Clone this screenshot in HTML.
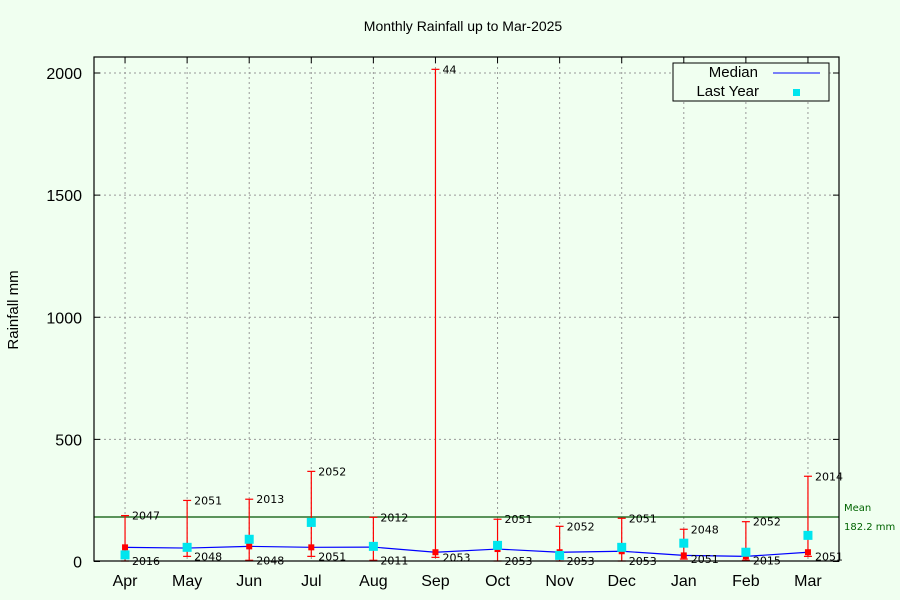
<!DOCTYPE html>
<html><head><meta charset="utf-8"><style>
body{margin:0;background:#f0fff0;}
svg{display:block;font-family:"Liberation Sans",sans-serif;}
.yr{font-family:"DejaVu Sans","Liberation Sans",sans-serif;}
</style></head><body>
<svg id="chart" width="900" height="600">
<rect x="0" y="0" width="900" height="600" fill="#f0fff0"/>
<text x="463" y="31" font-size="14" text-anchor="middle" fill="#000">Monthly Rainfall up to Mar-2025</text>
<text transform="translate(18,310) rotate(-90)" font-size="15" text-anchor="middle">Rainfall mm</text>
<g id="grid"></g>
<g id="marks"></g>
<rect x="94" y="57" width="745" height="504" fill="none" stroke="#000" stroke-width="1.2"/>
<g>
<rect x="673" y="63" width="156" height="38" fill="#f0fff0" stroke="#000"/>
<text x="758" y="77" font-size="15" text-anchor="end">Median</text>
<line x1="773" y1="73" x2="820" y2="73" stroke="#0000ff"/>
<text x="759" y="96" font-size="15" text-anchor="end">Last Year</text>
<rect x="793" y="89" width="7" height="7" fill="#00e5ee"/>
</g>
</svg>
<script>
const months=["Apr","May","Jun","Jul","Aug","Sep","Oct","Nov","Dec","Jan","Feb","Mar"];
const maxVals=[188,250,255,369,181,2015,173,144,177,132,163,349];
const maxYears=["2047","2051","2013","2052","2012","44","2051","2052","2051","2048","2052","2014"];
const minVals=[2,21,5,21,5,17,2,2,2,10,5,21];
const minYears=["2016","2048","2048","2051","2011","2053","2053","2053","2053","2051","2015","2051"];
const medianVals=[58,55,62,58,59,38,51,38,42,25,21,38];
const lastYearVals=[27,58,91,160,62,null,66,25,58,75,38,107];
const meanVal=182.2;
const yTicks=[0,500,1000,1500,2000];

const NS="http://www.w3.org/2000/svg";
const L=94,R=839,T=57,B=561.5;
const yMax=(B-T)/((561.5-73)/2000);
function xs(i){return L+(R-L)/months.length*(i+0.5);}
function ys(v){return B-(v/yMax)*(B-T);}
function mk(tag,attrs,parent,text){const e=document.createElementNS(NS,tag);for(const k in attrs)e.setAttribute(k,attrs[k]);if(text!==undefined)e.textContent=text;parent.appendChild(e);return e;}
const grid=document.getElementById('grid'),marks=document.getElementById('marks');

yTicks.forEach(t=>{
  const y=ys(t);
  if(t>0){const g=mk('line',{x1:L,x2:R,y1:y,y2:y,stroke:'#999','stroke-dasharray':'2,3'},grid);
  
  }
  const tk=mk('line',{x1:L,x2:L+6,y1:y,y2:y,stroke:'#000'},grid);
  
  
  const tk2=mk('line',{x1:R-6,x2:R,y1:y,y2:y,stroke:'#000'},grid);
  
  
  const lb=mk('text',{x:82,y:y+6,'font-size':16,'text-anchor':'end'},grid,String(t));
  
  
});
months.forEach((m,i)=>{
  const x=xs(i);
  const g=mk('line',{x1:x,x2:x,y1:T,y2:B,stroke:'#999','stroke-dasharray':'2,3'},grid);
  
  
  const tk=mk('line',{x1:x,x2:x,y1:T,y2:T+6,stroke:'#000'},grid);
  
  
  const lb=mk('text',{x:x,y:586,'font-size':16,'text-anchor':'middle'},grid,m);
  
  
});

const my=ys(meanVal);
const ml=mk('line',{x1:L,x2:R,y1:my,y2:my,stroke:'#005500','stroke-width':1.2},marks);


const mt=mk('text',{x:844,y:my-6,'font-size':10,fill:'#006400',class:'yr'},marks,'Mean');


const mv=mk('text',{x:844,y:my+13,'font-size':10,fill:'#006400',class:'yr'},marks,meanVal.toFixed(1)+' mm');



const pl=mk('polyline',{points:medianVals.map((v,i)=>xs(i)+','+ys(v)).join(' '),fill:'none',stroke:'#0000ff','stroke-width':1.2},marks);



months.forEach((m,i)=>{
  const x=xs(i),y1=ys(maxVals[i]),y2=ys(minVals[i]);
  const eb=mk('line',{x1:x,x2:x,y1:y1,y2:y2,stroke:'#ff0000','stroke-width':1.2},marks);
  
  
  [y1,y2].forEach(y=>{const c=mk('line',{x1:x-4,x2:x+4,y1:y,y2:y,stroke:'#ff0000','stroke-width':1.2},marks);
    
    });
  const t1=mk('text',{x:x+7,y:y1+4,'font-size':11,class:'yr'},marks,maxYears[i]);
  
  
  const t2=mk('text',{x:x+7,y:y2+4,'font-size':11,class:'yr'},marks,minYears[i]);
  
  
  const md=mk('rect',{x:x-3,y:ys(medianVals[i])-3,width:6,height:6,fill:'#ff0000'},marks);
  
  
  if(lastYearVals[i]!==null){
    const ly=mk('rect',{x:x-4.5,y:ys(lastYearVals[i])-4.5,width:9,height:9,fill:'#00e5ee'},marks);
    
    
  }
});
</script>
</body></html>
